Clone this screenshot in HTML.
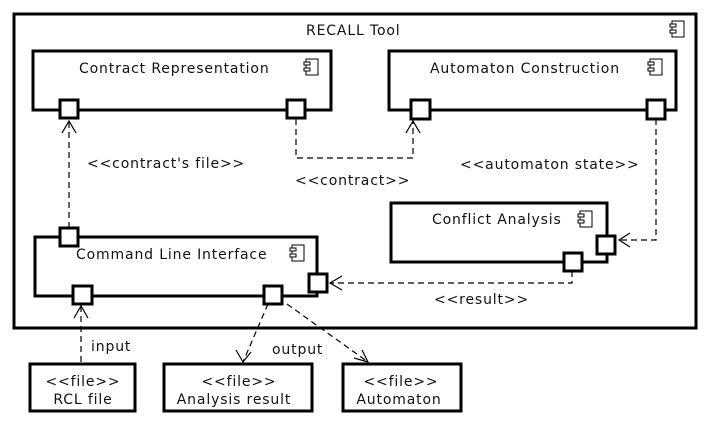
<!DOCTYPE html>
<html><head><meta charset="utf-8"><style>body{margin:0;background:#fff}svg{display:block}</style></head><body>
<svg width="709" height="425" xmlns="http://www.w3.org/2000/svg" font-family="DejaVu Sans, sans-serif" font-size="14">
<defs>
<g id="ic"><rect x="2" y="0" width="12" height="16" fill="#fff" stroke="#000" stroke-width="1"/><rect x="0" y="3" width="6" height="3" fill="#fff" stroke="#000" stroke-width="1"/><rect x="0" y="9" width="6" height="3" fill="#fff" stroke="#000" stroke-width="1"/></g>
</defs>
<g fill="#fff" stroke="#000" stroke-width="3">
<rect x="14" y="14" width="682" height="314"/>
<rect x="33" y="51" width="298" height="59"/>
<rect x="389" y="51" width="287" height="59"/>
<rect x="391" y="203" width="216" height="59"/>
<rect x="35" y="237" width="282" height="59"/>
<rect x="30" y="364" width="105" height="47"/>
<rect x="164" y="364" width="148" height="47"/>
<rect x="343" y="364" width="118" height="47"/>
</g>
<use href="#ic" x="670" y="21"/>
<use href="#ic" x="304" y="59"/>
<use href="#ic" x="648" y="59"/>
<use href="#ic" x="578" y="211"/>
<use href="#ic" x="290" y="245"/>
<g fill="none" stroke="#000" stroke-width="1.2" stroke-dasharray="6,4">
<path d="M69 228 V121"/>
<path d="M296 119 V158 H413 V121"/>
<path d="M656 119 V240 H619"/>
<path d="M572 271 V283 H330"/>
<path d="M81 362 V306"/>
<path d="M268 304 L243 362"/>
<path d="M287 304 L368 362"/>
</g>
<g fill="none" stroke="#000" stroke-width="1.2">
<path d="M62 133 L69 121 L76 133"/>
<path d="M406 133 L413 121 L420 133"/>
<path d="M630 233 L619 240 L630 247"/>
<path d="M342 276 L330 283 L342 290"/>
<path d="M74 318 L81 306 L88 318"/>
<path d="M236 350 L243 362 L251 352"/>
<path d="M354 358 L368 362 L362 350"/>
</g>
<g fill="#fff" stroke="#000" stroke-width="3">
<rect x="60" y="100" width="18" height="18"/>
<rect x="287" y="100" width="18" height="18"/>
<rect x="411" y="100" width="19" height="19"/>
<rect x="647" y="100" width="18" height="19"/>
<rect x="597" y="236" width="18" height="18"/>
<rect x="564" y="253" width="18" height="18"/>
<rect x="60" y="228" width="18" height="18"/>
<rect x="73" y="286" width="19" height="18"/>
<rect x="264" y="286" width="18" height="18"/>
<rect x="309" y="274" width="18" height="18"/>
</g>
<g fill="#111" letter-spacing="0.85">
<text x="306" y="35">RECALL Tool</text>
<text x="79" y="73">Contract Representation</text>
<text x="430" y="73">Automaton Construction</text>
<text x="432" y="224">Conflict Analysis</text>
<text x="76" y="259">Command Line Interface</text>
<text x="87" y="168">&lt;&lt;contract's file&gt;&gt;</text>
<text x="295" y="185">&lt;&lt;contract&gt;&gt;</text>
<text x="460" y="169">&lt;&lt;automaton state&gt;&gt;</text>
<text x="434" y="304">&lt;&lt;result&gt;&gt;</text>
<text x="91" y="351">input</text>
<text x="272" y="354">output</text>
<text x="83" y="386" text-anchor="middle">&lt;&lt;file&gt;&gt;</text>
<text x="83" y="404" text-anchor="middle">RCL file</text>
<text x="239" y="386" text-anchor="middle">&lt;&lt;file&gt;&gt;</text>
<text x="234" y="404" text-anchor="middle">Analysis result</text>
<text x="401" y="386" text-anchor="middle">&lt;&lt;file&gt;&gt;</text>
<text x="399" y="404" text-anchor="middle">Automaton</text>
</g>
</svg>
</body></html>
